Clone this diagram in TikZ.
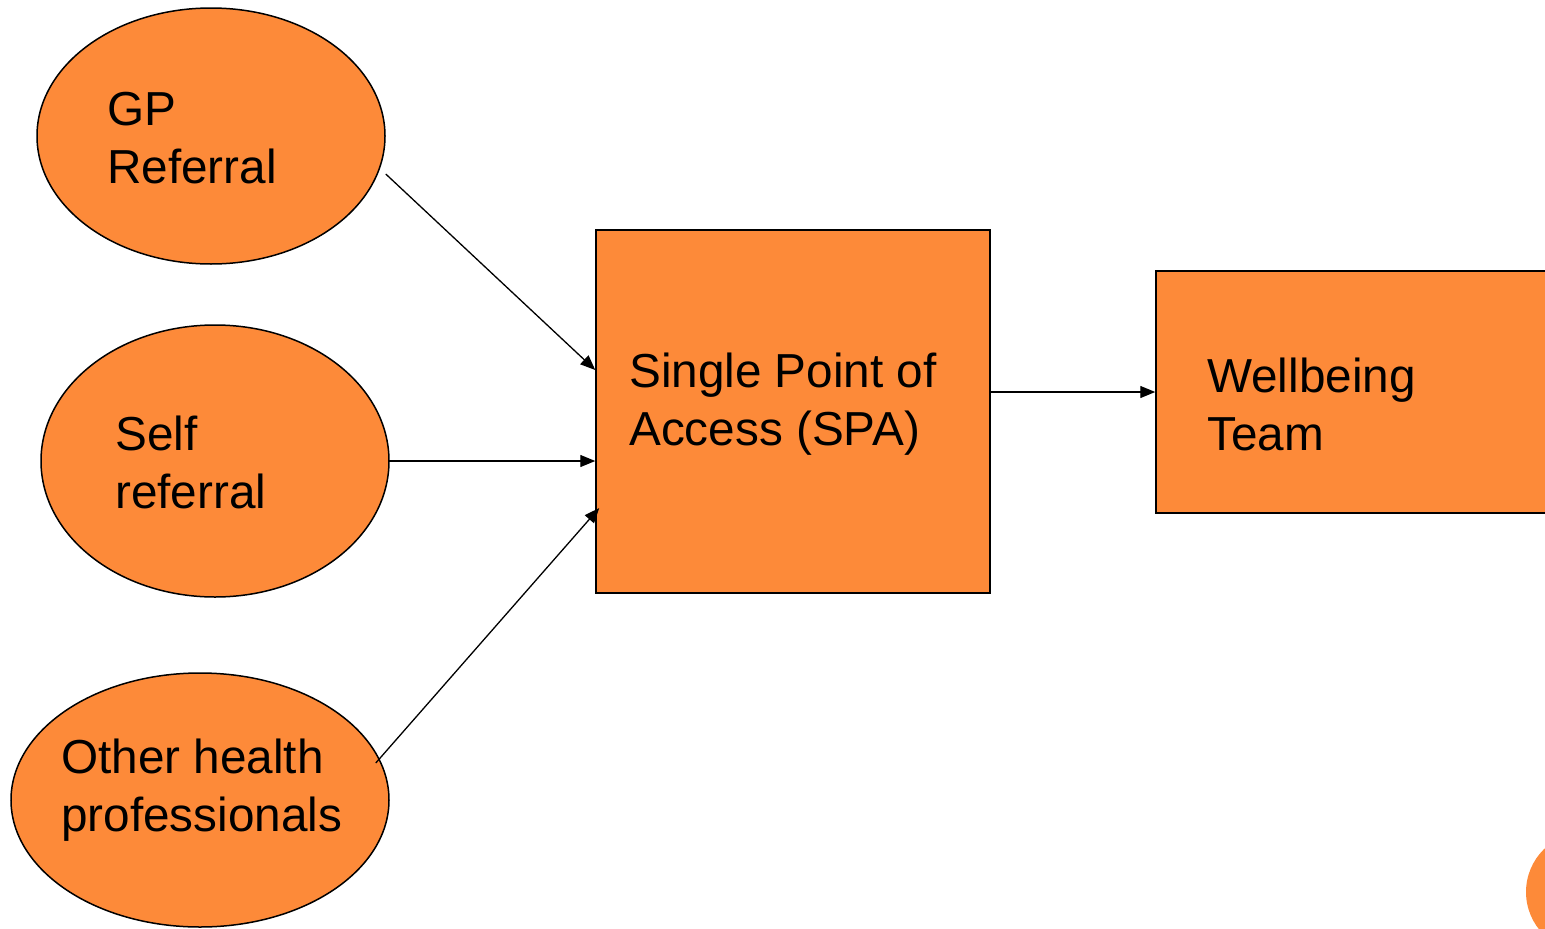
\documentclass[tikz,border=0pt]{standalone}
\usepackage{fontspec}
\setmainfont{Liberation Sans}
\usetikzlibrary{shapes.geometric,arrows.meta}
\definecolor{boxorange}{RGB}{253,138,57}
\tikzset{
  src/.style={ellipse,draw=black,line width=1.5pt,fill=boxorange,inner sep=0pt},
  blk/.style={rectangle,draw=black,line width=1.5pt,fill=boxorange,inner sep=0pt},
  lbl/.style={anchor=base west,align=left,inner sep=0pt,font=\fontsize{47.7}{58}\selectfont},
  conn/.style={line width=1.3pt,-{Triangle[length=15pt,width=12pt]}}
}
\begin{document}
\begin{tikzpicture}[x=1pt,y=-1pt]
\useasboundingbox (0,0) rectangle (1545,929);
\clip (0,0) rectangle (1545,929);
\node[src,minimum width=348pt,minimum height=256pt] (gp) at (211,136) {};
\node[src,minimum width=348pt,minimum height=272pt] (self) at (215,461) {};
\node[src,minimum width=378pt,minimum height=254pt] (other) at (200,800) {};
\node[blk,minimum width=394pt,minimum height=363pt] (spa) at (793,411.5) {};
\node[blk,minimum width=404pt,minimum height=242pt] (wb) at (1358,392) {};
\fill[boxorange] (1586,892) circle (60pt);
\node[lbl] (gpt) at (107,183) {GP\\Referral};
\node[lbl] (selft) at (115,508) {Self\\referral};
\node[lbl] (othert) at (61,831) {Other health\\professionals};
\node[lbl] (spat) at (629,445) {Single Point of\\Access (SPA)};
\node[lbl] (wbt) at (1207,450) {Wellbeing\\Team};
\draw[conn] ([yshift=-38pt]gp.east) -- ([yshift=41.5pt]spa.west);
\draw[conn] ([xshift=-2pt]self.east) -- ([yshift=-49.5pt]spa.west);
\draw[conn] ([xshift=-14pt,yshift=37pt]other.east) -- ([xshift=4pt,yshift=-96.5pt]spa.west);
\draw[conn] ([yshift=19.5pt]spa.east) -- (wb.west);
\end{tikzpicture}
\end{document}
